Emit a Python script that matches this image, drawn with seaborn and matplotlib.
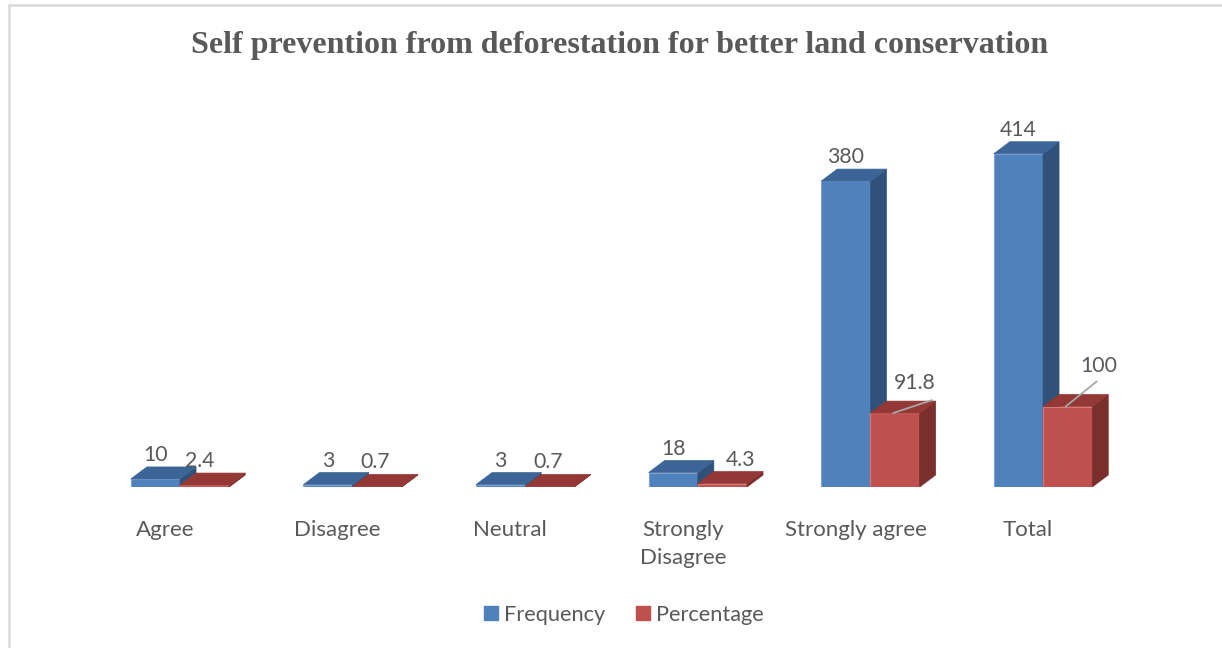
import matplotlib
matplotlib.use("Agg")
import matplotlib.pyplot as plt
import matplotlib.transforms as mtransforms
from matplotlib.patches import Polygon
from matplotlib.lines import Line2D
import pandas as pd
import seaborn as sns

# ---- data -------------------------------------------------------------
categories = ["Agree", "Disagree", "Neutral", "Strongly\nDisagree",
              "Strongly agree", "Total"]
frequency = [10, 3, 3, 18, 380, 414]
percentage = [2.4, 0.7, 0.7, 4.3, 91.8, 100]
series_names = ["Frequency", "Percentage"]

# ---- styling ----------------------------------------------------------
front_cols = ["#4F81BD", "#C0504D"]
top_cols = ["#3B6597", "#943835"]
side_cols = ["#30527A", "#7A2F2D"]
edge_cols = ["#7EA2D2", "#D97A77"]
text_col = "#595959"
label_font = ["Lato", "DejaVu Sans"]

sns.set_theme(style="white")
plt.rcParams["font.family"] = label_font

W, H, DPI = 1222, 648, 100
fig = plt.figure(figsize=(W / DPI, H / DPI), dpi=DPI)
fig.patch.set_facecolor("white")

# axes placed so the bar floor sits low and categories spread across
xlim = (-0.9, 5.6)
ylim = (0, 500)
left_px, right_px = 24.7, 1146.6
base_px, top_px = 487, 84.5
ax = fig.add_axes([left_px / W, (H - base_px) / H,
                   (right_px - left_px) / W, (base_px - top_px) / H])

df = pd.DataFrame({
    "Response": categories * 2,
    "Series": [series_names[0]] * len(categories) + [series_names[1]] * len(categories),
    "Value": frequency + percentage,
})

sns.barplot(data=df, x="Response", y="Value", hue="Series",
            palette=front_cols, saturation=1, width=0.57,
            legend=False, ax=ax, errorbar=None)

ax.set_xlim(*xlim)
ax.set_ylim(*ylim)
ax.set_xlabel("")
ax.set_ylabel("")
ax.set_yticks([])
for s in ax.spines.values():
    s.set_visible(False)

# depth of the extruded faces, expressed in data units
px_per_x = (right_px - left_px) / (xlim[1] - xlim[0])
px_per_y = (base_px - top_px) / (ylim[1] - ylim[0])
dx = 16 / px_per_x
dy = 12 / px_per_y

for si, cont in enumerate(ax.containers):
    z = 2 + si
    for bar in cont:
        x0 = bar.get_x()
        x1 = x0 + bar.get_width()
        h = bar.get_height()
        bar.set_zorder(z)
        bar.set_edgecolor(edge_cols[si])
        bar.set_linewidth(0.8)
        side = Polygon([(x1, 0), (x1, h), (x1 + dx, h + dy), (x1 + dx, dy)],
                       closed=True, facecolor=side_cols[si],
                       edgecolor=side_cols[si], lw=0.5, zorder=z + 0.1)
        top = Polygon([(x0, h), (x1, h), (x1 + dx, h + dy), (x0 + dx, h + dy)],
                      closed=True, facecolor=top_cols[si],
                      edgecolor=top_cols[si], lw=0.5, zorder=z + 0.2)
        ax.add_patch(side)
        ax.add_patch(top)

# value labels
label_size = 15.3
# tall percentage bars: (leader line end, label centre) offsets in pixels
leader = {4: ((39, 13), (20, 30)), 5: ((31, 25), (31, 41))}
for si, (cont, vals) in enumerate(zip(ax.containers, [frequency, percentage])):
    for ci, (bar, v) in enumerate(zip(cont, vals)):
        xc = bar.get_x() + bar.get_width() / 2
        h = bar.get_height()
        txt = f"{v:g}"
        if si == 1 and ci in leader:
            line_end, text_off = leader[ci]
            ax.annotate("", xy=(xc - 2 / px_per_x, h), xytext=line_end,
                        textcoords="offset pixels", zorder=10,
                        arrowprops=dict(arrowstyle="-", color="#A6A6A6", lw=1.3,
                                        shrinkA=0, shrinkB=0),
                        annotation_clip=False)
            ax.annotate(txt, xy=(xc, h), xytext=text_off,
                        textcoords="offset pixels", ha="center", va="center",
                        fontsize=label_size, color=text_col, zorder=10,
                        annotation_clip=False)
        else:
            shift = 0
            if si == 1:
                shift = -5 if ci == 0 else (18 if ci == 3 else -2)
            ax.annotate(txt, xy=(xc, h + dy), xytext=(shift, 2),
                        textcoords="offset pixels", ha="center", va="bottom",
                        fontsize=label_size, color=text_col, zorder=10,
                        annotation_clip=False)

# category labels sit slightly left of the bar pairs
ax.tick_params(axis="x", length=0, pad=23.5, labelsize=16, labelcolor=text_col)
shift_tr = mtransforms.ScaledTranslation(-15 / DPI, 0, fig.dpi_scale_trans)
for lab in ax.get_xticklabels():
    lab.set_transform(lab.get_transform() + shift_tr)
    lab.set_linespacing(1.5)

# title
fig.text(620 / W, 1 - 45 / H,
         "Self prevention from deforestation for better land conservation",
         ha="center", va="center", fontsize=23, fontweight="bold",
         color=text_col, family=["Liberation Serif", "DejaVu Serif"])

# legend
handles = [Line2D([], [], marker="s", linestyle="none", markersize=10,
                  markerfacecolor=c, markeredgecolor=c) for c in front_cols]
fig.legend(handles, series_names, loc="center",
           bbox_to_anchor=(623 / W, 1 - 615 / H), ncol=2, frameon=False,
           fontsize=15.7, labelcolor=text_col, handletextpad=0.2,
           columnspacing=1.3, handlelength=0.8)

# thin chart-area border
fig.add_artist(Line2D([9 / W, 9 / W], [0, 1 - 5 / H], transform=fig.transFigure,
                      color="#D9D9D9", lw=1.8))
fig.add_artist(Line2D([9 / W, 1], [1 - 5 / H, 1 - 5 / H], transform=fig.transFigure,
                      color="#D9D9D9", lw=1.8))

fig.savefig("out.png", dpi=DPI, facecolor="white")
